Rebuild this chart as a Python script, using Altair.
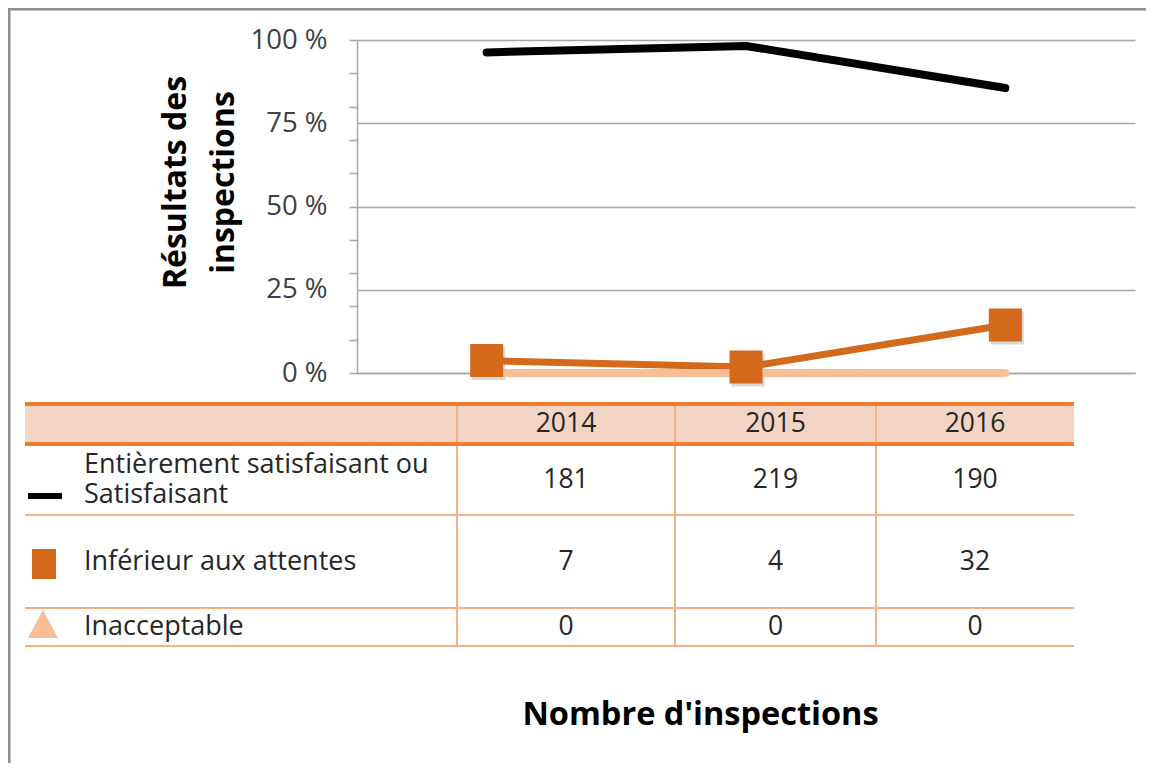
import altair as alt
import pandas as pd

# ---------------- data ----------------
years = [2014, 2015, 2016]
series_labels = [
    "Entièrement satisfaisant  ou\nSatisfaisant",
    "Inférieur aux attentes",
    "Inacceptable",
]
satisfaisant = [181, 219, 190]
inferieur = [7, 4, 32]
inacceptable = [0, 0, 0]
y_tick_values = [0, 10, 20, 25, 30, 40, 50, 60, 70, 75, 80, 90, 100]
x_title = "Nombre d'inspections"
y_title = ["Résultats des", "inspections"]

counts = [satisfaisant, inferieur, inacceptable]
rows = []
for sid, vals in enumerate(counts):
    for yi, (yr, v) in enumerate(zip(years, vals)):
        rows.append({"year": yr, "sid": sid, "count": v,
                     "col": yi + 1.5, "row": sid + 1.5})
df = pd.DataFrame(rows)
labels_df = pd.DataFrame({"sid": list(range(len(series_labels))),
                          "label": series_labels,
                          "row": [i + 1.5 for i in range(len(series_labels))]})
years_df = pd.DataFrame({"year": years,
                         "col": [i + 1.5 for i in range(len(years))],
                         "row": [0.5] * len(years)})
hdr_lines = pd.DataFrame({"b": [0, 1]})
row_lines = pd.DataFrame({"b": list(range(2, len(series_labels) + 2))})
col_lines = pd.DataFrame({"c": list(range(1, len(years) + 1))})
one = pd.DataFrame({"a": [0]})

# ---------------- style ----------------
FONT = "Open Sans"
BLACK = "#000000"
ORANGE = "#D4691C"
PEACH = "#F8BE98"
GRID = "#A6A6A6"
TXT = "#262626"
HDR_FILL = "#F2D4C4"
HDR_LINE = "#ED7D31"
TBL_LINE = "#F4B183"

# ---------------- plot part ----------------
x_enc = alt.X(
    "year:Q",
    scale=alt.Scale(domain=[2013.5, 2016.5], nice=False, zero=False),
    axis=alt.Axis(labels=False, ticks=False, grid=False, domain=True,
                  domainColor=GRID, domainWidth=1.5,
                  title=x_title, titleFont=FONT, titleFontSize=32.5,
                  titleFontWeight="bold", titleColor="#000000",
                  titleX=343, titleY=341, titleAlign="center",
                  titleBaseline="middle"),
)
y_enc = alt.Y(
    "pct:Q",
    scale=alt.Scale(domain=[0, 100], nice=False),
    axis=alt.Axis(
        values=y_tick_values,
        grid=True, gridColor=GRID, gridWidth=1.5,
        gridOpacity={"condition": {"test": "datum.value % 25 === 0", "value": 1}, "value": 0},
        ticks=True, tickColor=GRID, tickWidth=1.5, tickSize=8,
        tickOpacity={"condition": {"test": "datum.value % 10 === 0", "value": 1}, "value": 0},
        domain=True, domainColor=GRID, domainWidth=1.5,
        labelExpr="datum.value % 25 === 0 ? datum.value + ' %' : ''",
        labelFont=FONT, labelFontSize=27.5, labelColor="#404040",
        labelPadding=22, labelOverlap=False, labelFlush=False, labelBound=False,
        title=y_title, titleFont=FONT, titleFontSize=32, titleFontWeight="bold",
        titleColor="#000000", titleAngle=270, titleX=-182, titleY=142,
        titleAlign="center", titleBaseline="middle", titleLineHeight=48,
    ),
)

base = (alt.Chart(df)
        .transform_joinaggregate(total="sum(count)", groupby=["year"])
        .transform_calculate(pct="datum.count / datum.total * 100"))

black_line = base.transform_filter("datum.sid == 0").mark_line(
    color=BLACK, strokeWidth=8, strokeCap="round", strokeJoin="round"
).encode(x=x_enc, y=y_enc)
orange_line = base.transform_filter("datum.sid == 1").mark_line(
    color=ORANGE, strokeWidth=7, strokeCap="round", strokeJoin="round"
).encode(x=x_enc, y=y_enc)
shadow = base.transform_filter("datum.sid == 1").mark_point(
    shape="square", size=1089, filled=True, color="#7F7F7F", opacity=0.3,
    xOffset=2, yOffset=3
).encode(x=x_enc, y=y_enc)
peach_line = base.transform_filter("datum.sid == 2").mark_line(
    color=PEACH, strokeWidth=8, strokeCap="round", strokeJoin="round"
).encode(x=x_enc, y=y_enc)
squares = base.transform_filter("datum.sid == 1").mark_point(
    shape="square", size=1089, filled=True, color=ORANGE, opacity=1
).encode(x=x_enc, y=y_enc)

frame_left = alt.Chart(one).mark_rule(color="#8C8C8C", strokeWidth=2.5).encode(
    x=alt.value(-347.75), y=alt.value(-32), y2=alt.value(723))
frame_top = alt.Chart(one).mark_rule(color="#8C8C8C", strokeWidth=2.5).encode(
    x=alt.value(-349), x2=alt.value(789), y=alt.value(-30.75))

plot = alt.layer(black_line, orange_line, shadow, peach_line, squares,
                 frame_left, frame_top)

# ---------------- table part ----------------
tx_scale = alt.Scale(domain=[0, 1, 2, 3, 4], range=[-332, 100, 318, 519, 717],
                     nice=False, zero=False)
ty_scale = alt.Scale(domain=[0, 1, 2, 3, 4], range=[364, 404, 475, 568, 606],
                     nice=False, zero=False)


def TX(field):
    return alt.X(field, type="quantitative", scale=tx_scale, axis=None)


def TY(field):
    return alt.Y(field, type="quantitative", scale=ty_scale, axis=None)


def TXD(v):
    return alt.XDatum(v, type="quantitative", scale=tx_scale, axis=None)


def TYD(v):
    return alt.YDatum(v, type="quantitative", scale=ty_scale, axis=None)


hdr_rect = alt.Chart(one).mark_rect(color=HDR_FILL).encode(
    x=TXD(0), x2=alt.X2Datum(4), y=TYD(0), y2=alt.Y2Datum(1))
col_rules = alt.Chart(col_lines).mark_rule(color=TBL_LINE, strokeWidth=2).encode(
    x=TX("c"), y=TYD(0), y2=alt.Y2Datum(4))
row_rules = alt.Chart(row_lines).mark_rule(color=TBL_LINE, strokeWidth=2).encode(
    x=TXD(0), x2=alt.X2Datum(4), y=TY("b"))
hdr_rules = alt.Chart(hdr_lines).mark_rule(color=HDR_LINE, strokeWidth=4).encode(
    x=TXD(0), x2=alt.X2Datum(4), y=TY("b"))
hdr_text = alt.Chart(years_df).mark_text(
    font=FONT, fontSize=26.5, color=TXT, baseline="middle"
).encode(x=TX("col"), y=TY("row"), text=alt.Text("year:N"))
val_text = alt.Chart(df).mark_text(
    font=FONT, fontSize=26.5, color=TXT, baseline="middle"
).encode(x=TX("col"), y=TY("row"), text=alt.Text("count:Q"))
lab_text_2l = alt.Chart(labels_df).transform_filter("datum.sid == 0").mark_text(
    font=FONT, fontSize=27, color=TXT, align="left", baseline="middle",
    dx=59, dy=-15, lineBreak="\n", lineHeight=30
).encode(x=TXD(0), y=TY("row"), text="label:N")
lab_text = alt.Chart(labels_df).transform_filter("datum.sid > 0").mark_text(
    font=FONT, fontSize=27, color=TXT, align="left", baseline="middle",
    dx=59
).encode(x=TXD(0), y=TY("row"), text="label:N")

sym_dash = alt.Chart(labels_df).transform_filter("datum.sid == 0").mark_point(
    shape="M-1,-0.18H1V0.18H-1Z", size=1156, filled=True, color=BLACK,
    opacity=1, xOffset=20, yOffset=16.5
).encode(x=TXD(0), y=TY("row"))
sym_square = alt.Chart(labels_df).transform_filter("datum.sid == 1").mark_point(
    shape="M-0.8,-1H0.8V1H-0.8Z", size=900, filled=True, color=ORANGE,
    opacity=1, xOffset=19, yOffset=2.5
).encode(x=TXD(0), y=TY("row"))
sym_tri = alt.Chart(labels_df).transform_filter("datum.sid == 2").mark_point(
    shape="M0,-0.93L1,0.93L-1,0.93Z", size=900, filled=True, color=PEACH,
    opacity=1, xOffset=18, yOffset=-3
).encode(x=TXD(0), y=TY("row"))

table = alt.layer(hdr_rect, col_rules, row_rules, hdr_rules,
                  hdr_text, val_text, lab_text_2l, lab_text,
                  sym_dash, sym_square, sym_tri)

chart = (
    alt.layer(plot, table)
    .resolve_scale(x="independent", y="independent")
    .properties(
        width=778, height=333,
        padding={"left": 349, "top": 32, "right": 11, "bottom": 390},
        autosize=alt.AutoSizeParams(type="none"),
        background="white",
    )
    .configure_view(stroke=None)
)

chart.save("out.html", embed_options={"renderer": "svg", "actions": False})
